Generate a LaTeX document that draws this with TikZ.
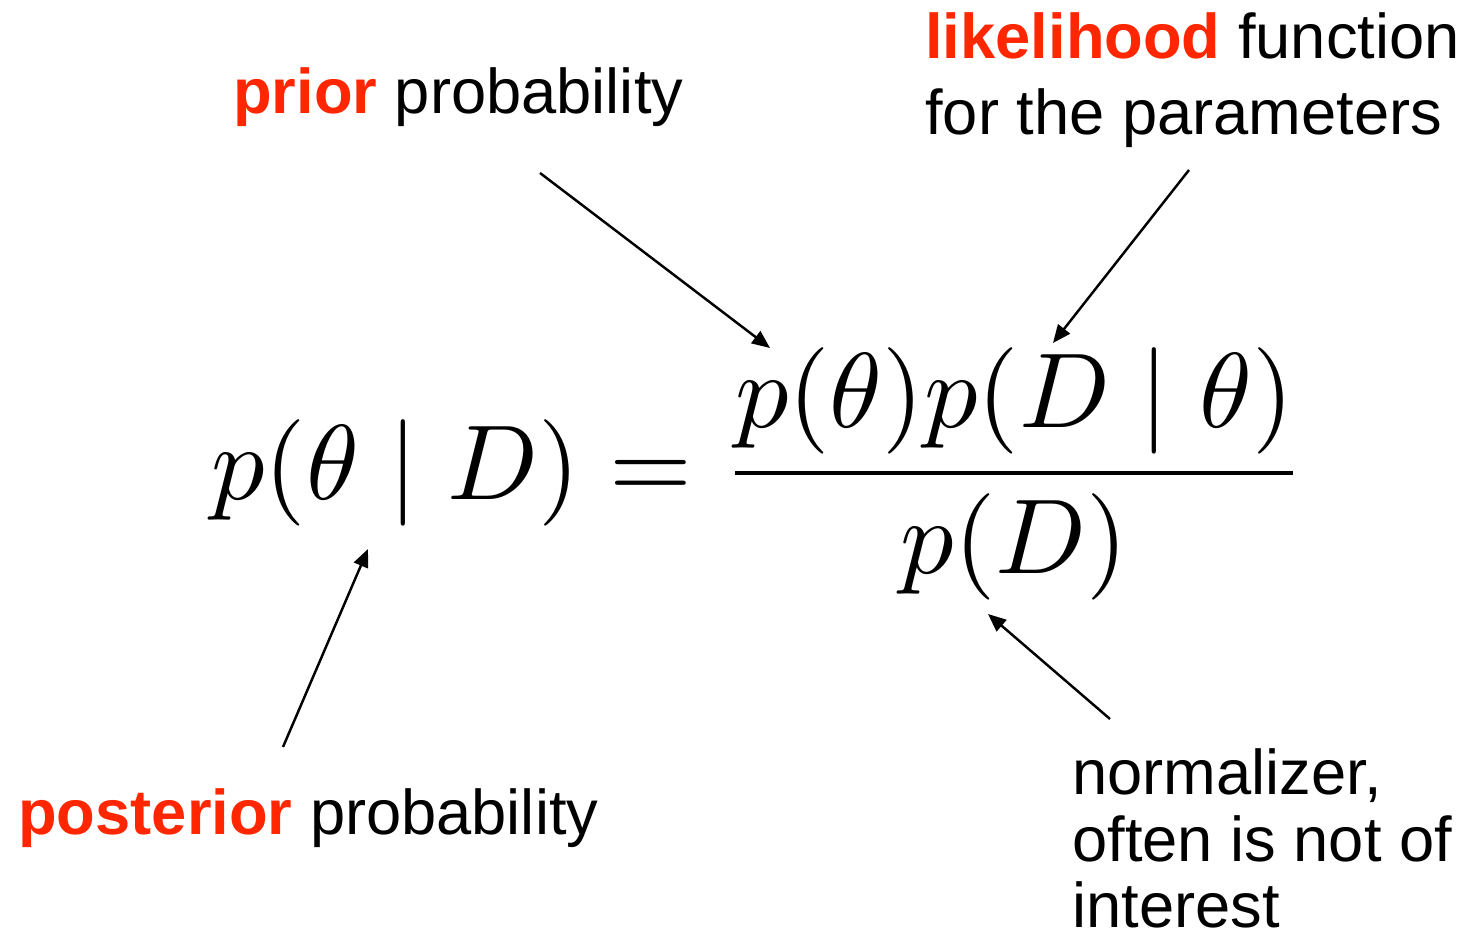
\documentclass[tikz,border=0pt]{standalone}
\usepackage[no-math]{fontspec}
\setmainfont{Liberation Sans}
\usetikzlibrary{arrows.meta}

\definecolor{keyred}{HTML}{FF2600}
\newcommand{\keyword}[1]{\textbf{\color{keyred}#1}}

\begin{document}
\begin{tikzpicture}[
  x=0.02cm, y=0.02cm,
  note/.style={inner sep=0pt, anchor=base west, align=left,
    font=\fontsize{36}{43.7}\selectfont},
  pointer/.style={line width=1.4pt, -{Triangle[length=0.36cm,width=0.3cm]}}
]
\useasboundingbox (0,0) rectangle (1468,939);

% Bayes' rule
\node[inner sep=0pt, anchor=base west, scale=6.06] (bayes) at (209,439)
  {$\displaystyle p(\theta\mid D)=\frac{p(\theta)p(D\mid\theta)}{p(D)}$};

% the four labels (base = last line)
\node[note] (prior) at (233,825) {\keyword{prior} probability};
\node[note] (likelihood) at (925,804) {\keyword{likelihood} function\\for the parameters};
\node[note] (posterior) at (18,104) {\keyword{posterior} probability};
\node[note, font=\fontsize{36}{38}\selectfont] (normalizer) at (1072,11)
  {normalizer,\\often is not of\\interest};

% arrow ends
\coordinate (prior-tail) at (540,766);
\coordinate (prior-tip) at (770,591);
\coordinate (likelihood-tail) at (1189,769);
\coordinate (likelihood-tip) at (1053,596);
\coordinate (posterior-tail) at (283,192);
\coordinate (posterior-tip) at (368,390);
\coordinate (normalizer-tail) at (1110,220);
\coordinate (normalizer-tip) at (988,325);

\draw[pointer] (prior-tail) -- (prior-tip);
\draw[pointer] (likelihood-tail) -- (likelihood-tip);
\draw[pointer] (posterior-tail) -- (posterior-tip);
\draw[pointer] (normalizer-tail) -- (normalizer-tip);
\end{tikzpicture}
\end{document}
